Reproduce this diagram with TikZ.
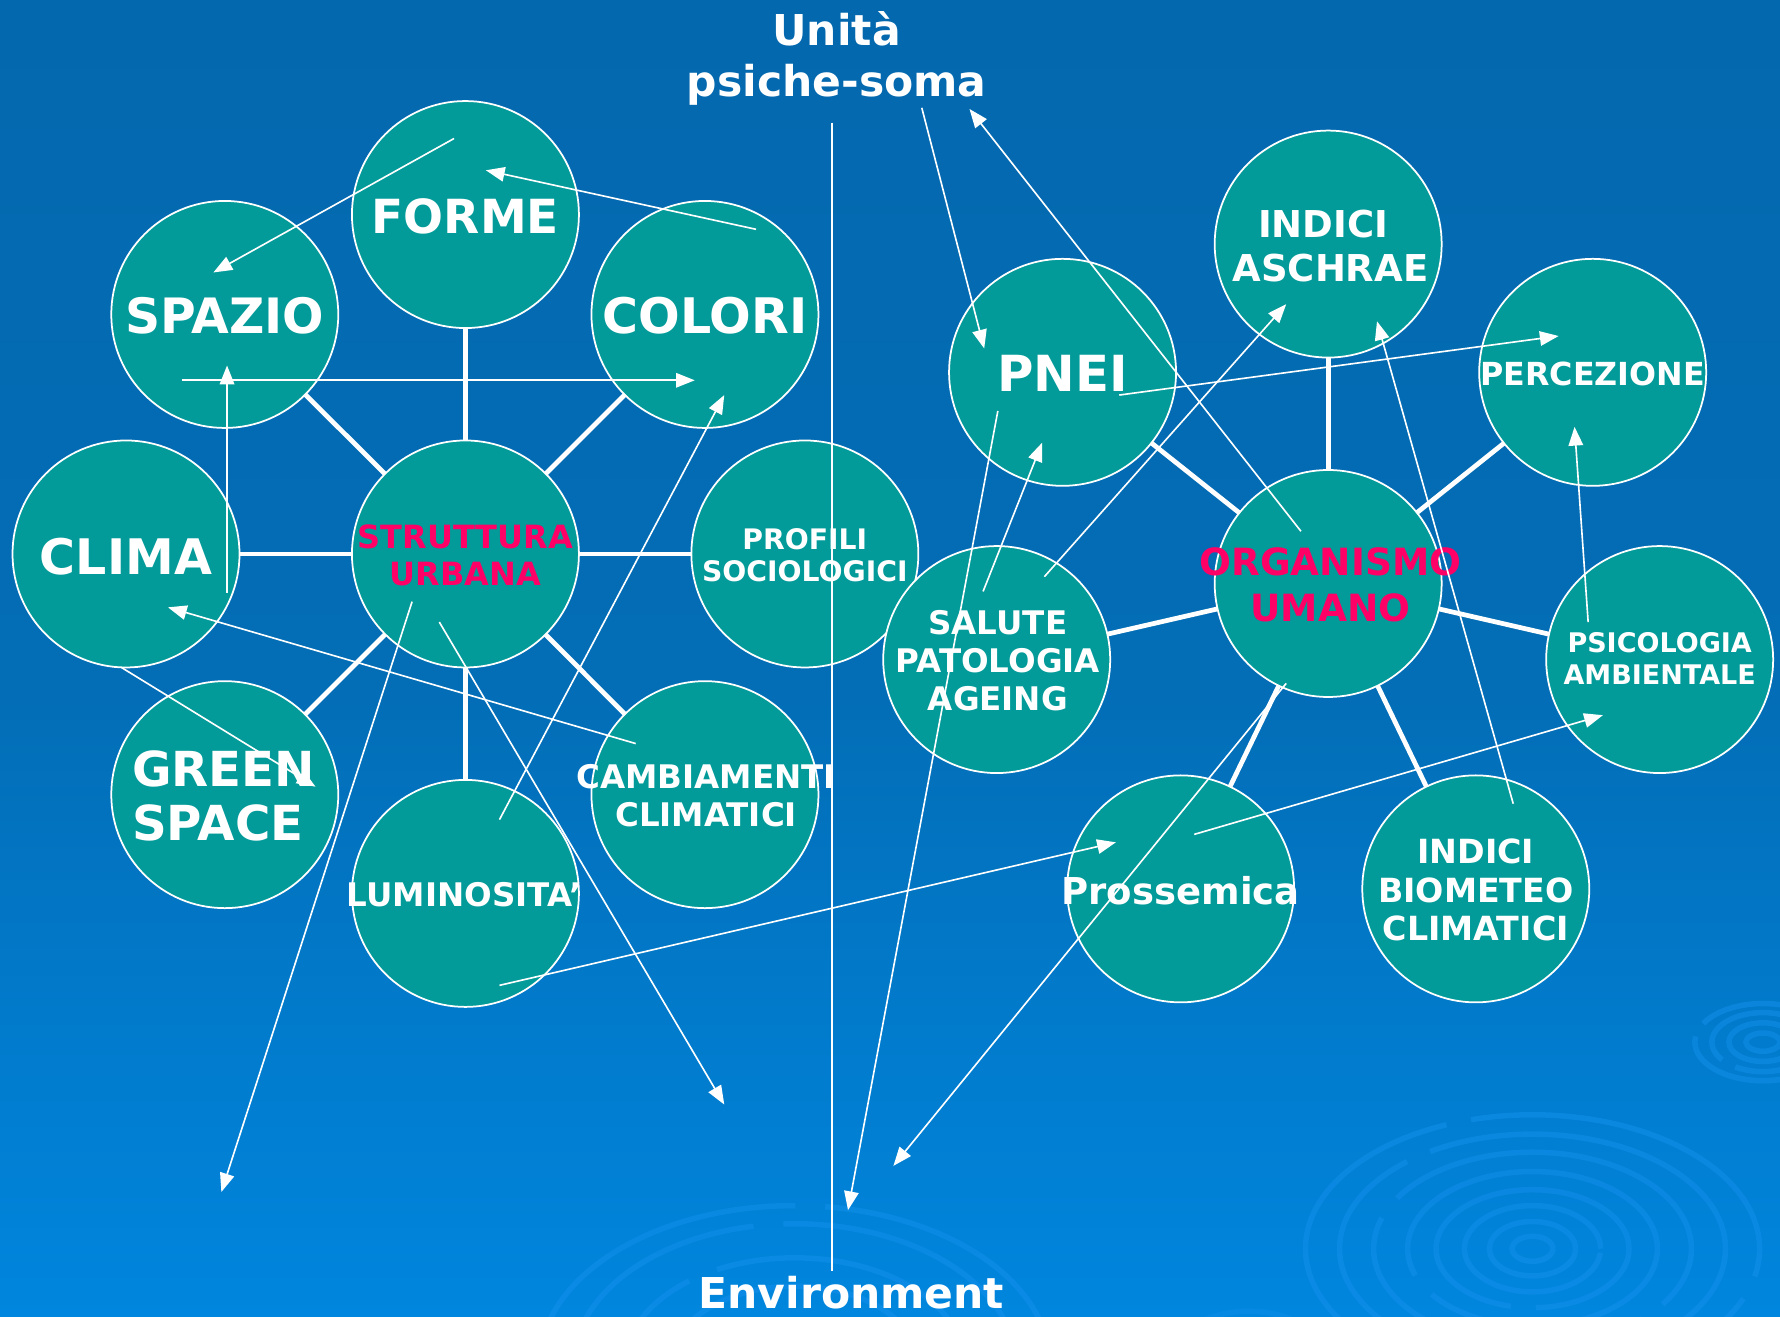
\documentclass[tikz,border=0pt]{standalone}
\usepackage{fontspec}
\setmainfont{DejaVu Sans}
\usetikzlibrary{arrows.meta}
\definecolor{bgtop}{RGB}{4,104,174}
\definecolor{bgmid}{RGB}{3,109,182}
\definecolor{bgbot}{RGB}{0,134,222}
\definecolor{tealc}{RGB}{3,155,153}
\definecolor{pinkc}{RGB}{255,0,102}
\definecolor{ripc}{RGB}{20,144,236}
\newcommand\fsz[2]{\bfseries\fontsize{#1}{#2}\selectfont}
\begin{document}
\begin{tikzpicture}[x=0.45408pt,y=-0.45408pt,
  circ/.style={circle,draw=white,line width=0.7pt,fill=tealc,minimum size=90.8pt,inner sep=0pt,outer sep=0pt},
  bond/.style={draw=white,line width=1.9pt},
  arr/.style={draw=white,line width=0.65pt,-{Triangle[length=7.5pt,width=5.8pt]}},
  plainline/.style={draw=white,line width=0.65pt},
  lab/.style={text=white,align=center,inner sep=0pt},
  pinklab/.style={lab,text=pinkc},
  ring/.style={draw=ripc,line width=2.2pt,opacity=0.5}]
% background
\useasboundingbox (0,0) rectangle (1568,1160);
\fill[top color=bgtop,bottom color=bgmid] (0,0) rectangle (1568,601);
\fill[top color=bgmid,bottom color=bgbot] (0,600) rectangle (1568,1160);
% ripples
\begin{scope}
\clip (0,0) rectangle (1568,1160);
\foreach \rx/\ry in {18/11,38/24,60/38,85/52,110/68,140/85,170/101,200/118}
  \draw[ring,dash pattern=on 140pt off 10pt] (1350,1100) ellipse ({\rx*0.45408pt} and {\ry*0.45408pt});
\foreach \rx/\ry in {15/8,30/17,45/26,60/34}
  \draw[ring,dash pattern=on 60pt off 6pt] (1553,918) ellipse ({\rx*0.45408pt} and {\ry*0.45408pt});
\foreach \rx/\ry in {110/70,150/95,195/125,225/141}
  \draw[ring,dash pattern=on 120pt off 12pt] (700,1203) ellipse ({\rx*0.45408pt} and {\ry*0.45408pt});
\foreach \rx/\ry in {60/60,100/95}
  \draw[ring,opacity=0.3] (1100,1250) ellipse ({\rx*0.45408pt} and {\ry*0.45408pt});
\end{scope}
% circles
\node[circ] (forme) at (410,189) {};
\node[circ] (spazio) at (198,277) {};
\node[circ] (colori) at (621,277) {};
\node[circ] (clima) at (111,488) {};
\node[circ] (su) at (410,488) {};
\node[circ] (profili) at (709,488) {};
\node[circ] (green) at (198,700) {};
\node[circ] (lum) at (410,787) {};
\node[circ] (camb) at (621,700) {};
\node[circ] (aschrae) at (1170,215) {};
\node[circ] (pnei) at (936,328) {};
\node[circ] (perc) at (1403,328) {};
\node[circ] (org) at (1170,514) {};
\node[circ] (salute) at (878,581) {};
\node[circ] (psico) at (1462,581) {};
\node[circ] (pross) at (1040,783) {};
\node[circ] (biomet) at (1300,783) {};
% thick bonds
\foreach \n in {forme,spazio,colori,clima,profili,green,lum,camb}
  \draw[bond] (su) -- (\n);
\foreach \n in {aschrae,pnei,perc,salute,psico,pross,biomet}
  \draw[bond] (org) -- (\n);
% labels
\node[lab,font=\fsz{18.8}{22}] (tforme) at (410,191) {FORME};
\node[lab,font=\fsz{19.5}{23}] (tspazio) at (198,278) {SPAZIO};
\node[lab,font=\fsz{19.6}{23}] (tcolori) at (621,278) {COLORI};
\node[lab,font=\fsz{19.6}{23}] (tclima) at (111,490) {CLIMA};
\node[pinklab,font=\fsz{12.8}{15}] (tsu) at (410,489) {STRUTTURA\\URBANA};
\node[lab,font=\fsz{11.3}{12.5}] (tprofili) at (709,489) {PROFILI\\SOCIOLOGICI};
\node[lab,align=left,font=\fsz{19.3}{21.8}] (tgreen) at (197,701) {GREEN\\SPACE};
\node[lab,font=\fsz{13}{15}] (tlum) at (409,788) {LUMINOSITA’};
\node[lab,font=\fsz{13}{15}] (tcamb) at (622,701) {CAMBIAMENTI\\CLIMATICI};
\node[lab,font=\fsz{14.8}{17.7}] (taschrae) at (1172,217) {INDICI\hspace*{0.4em}\\ASCHRAE};
\node[lab,font=\fsz{19.9}{23}] (tpnei) at (936,329) {PNEI};
\node[lab,font=\fsz{12.7}{15}] (tperc) at (1403,329) {PERCEZIONE};
\node[pinklab,font=\fsz{15}{18.2}] (torg) at (1172,515) {ORGANISMO\\UMANO};
\node[lab,font=\fsz{13}{15.2}] (tsalute) at (879,582) {SALUTE\\PATOLOGIA\\AGEING};
\node[lab,font=\fsz{10.8}{12.7}] (tpsico) at (1462,580) {PSICOLOGIA\\AMBIENTALE};
\node[lab,font=\fsz{14.8}{17}] (tpross) at (1040,785) {Prossemica};
\node[lab,font=\fsz{13.3}{15.4}] (tbiomet) at (1300,784) {INDICI\\BIOMETEO\\CLIMATICI};
\node[lab,anchor=base,font=\fsz{17}{20}] (tunita) at (737,40.5) {Unità};
\node[lab,anchor=base,font=\fsz{17}{20}] (tpsiche) at (737,85) {psiche-soma};
\node[lab,anchor=base,font=\fsz{17}{20}] (tenv) at (750,1153) {Environment};
% arrow end points
\coordinate (a1s) at (400,122); \coordinate (a1e) at (188,240);
\coordinate (a2s) at (666,202); \coordinate (a2e) at (428,150);
\coordinate (a3s) at (160,335); \coordinate (a3e) at (612,335);
\coordinate (a4s) at (200,522); \coordinate (a4e) at (200,322);
\coordinate (a5s) at (560,655); \coordinate (a5e) at (148,535);
\coordinate (a6s) at (107,588); \coordinate (a6e) at (278,693);
\coordinate (a7s) at (440,722); \coordinate (a7e) at (638,348);
\coordinate (a8s) at (363,530); \coordinate (a8e) at (195,1050);
\coordinate (a9s) at (387,548); \coordinate (a9e) at (638,973);
\coordinate (a10s) at (440,868); \coordinate (a10e) at (983,742);
\coordinate (vtop) at (733,108); \coordinate (vbot) at (733,1120);
\coordinate (a12s) at (812,95); \coordinate (a12e) at (867,307);
\coordinate (a13s) at (1146,468); \coordinate (a13e) at (854,96);
\coordinate (a14s) at (879,362); \coordinate (a14e) at (747,1066);
\coordinate (a15s) at (866,521); \coordinate (a15e) at (918,390);
\coordinate (a16s) at (920,508); \coordinate (a16e) at (1133,268);
\coordinate (a17s) at (986,348); \coordinate (a17e) at (1373,296);
\coordinate (a18s) at (1333,708); \coordinate (a18e) at (1213,283);
\coordinate (a19s) at (1399,548); \coordinate (a19e) at (1387,376);
\coordinate (a20s) at (1052,735); \coordinate (a20e) at (1412,630);
\coordinate (a21s) at (1133,602); \coordinate (a21e) at (787,1027);
% thin arrows
\draw[plainline] (vtop) -- (vbot);
\foreach \i in {1,2,3,4,5,6,7,8,9,10,12,13,14,15,16,17,18,19,20,21}
  \draw[arr] (a\i s) -- (a\i e);
\end{tikzpicture}
\end{document}
